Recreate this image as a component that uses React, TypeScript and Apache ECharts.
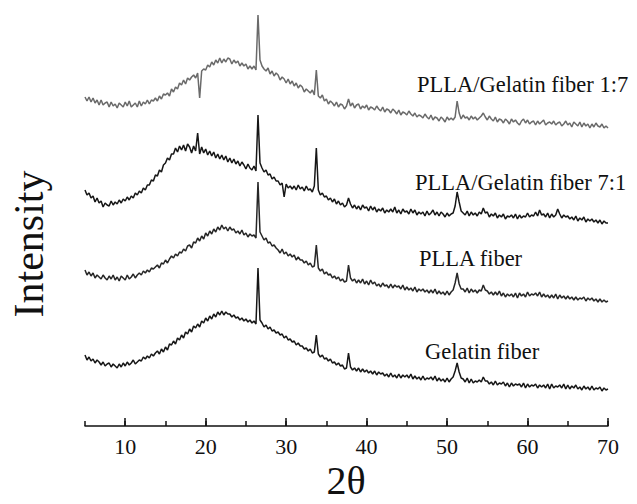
import React, { useEffect, useRef } from "react";
import * as echarts from "echarts";

// 2θ sampling of the patterns (degrees)
const THETA_START = 5;
const THETA_STEP = 0.25;
const MAJOR_TICKS = [10, 20, 30, 40, 50, 60, 70];

// Intensity (a.u., curves already offset as in the figure), 5°..70° in 0.25° steps
const fiber17 = [
  329, 325, 329, 324, 328, 323, 326, 321, 326, 321, 323, 324, 319, 324, 320, 322,
  318, 323, 321, 319, 324, 320, 325, 319, 321, 323, 319, 325, 320, 324, 322, 326,
  322, 326, 325, 328, 325, 330, 327, 332, 331, 333, 330, 337, 334, 339, 337, 343,
  341, 346, 342, 348, 346, 349, 351, 348, 353, 328, 355, 357, 356, 361, 359, 364,
  361, 366, 363, 368, 363, 367, 364, 368, 367, 362, 366, 363, 365, 360, 363, 360,
  362, 357, 360, 357, 360, 356, 411, 366, 360, 357, 355, 358, 352, 355, 350, 353,
  351, 346, 349, 347, 343, 347, 342, 345, 340, 343, 338, 341, 339, 334, 337, 335,
  333, 336, 331, 356, 330, 328, 331, 325, 327, 322, 325, 323, 320, 324, 319, 322,
  321, 317, 320, 327, 320, 323, 318, 321, 322, 317, 320, 318, 321, 316, 319, 318,
  316, 320, 317, 315, 319, 314, 317, 316, 313, 317, 315, 312, 316, 311, 314, 313,
  311, 315, 312, 310, 313, 309, 311, 310, 308, 312, 309, 307, 311, 306, 309, 308,
  305, 309, 307, 304, 309, 306, 308, 306, 309, 325, 313, 307, 311, 308, 309, 306,
  310, 307, 309, 306, 308, 310, 313, 309, 306, 310, 307, 305, 309, 304, 307, 306,
  303, 307, 305, 302, 307, 304, 306, 303, 301, 305, 307, 303, 306, 302, 304, 305,
  301, 305, 302, 304, 306, 301, 303, 304, 302, 305, 301, 303, 304, 300, 302, 305,
  301, 303, 299, 304, 302, 300, 304, 299, 303, 300, 302, 298, 302, 299, 303, 300,
  299, 302, 298, 300, 298,
];

const fiber71 = [
  236, 231, 233, 228, 230, 224, 228, 223, 225, 219, 223, 221, 220, 225, 221, 224,
  222, 226, 223, 227, 225, 229, 226, 230, 228, 233, 231, 235, 233, 238, 236, 241,
  241, 246, 245, 251, 250, 256, 254, 261, 263, 268, 266, 272, 272, 278, 274, 280,
  276, 281, 275, 282, 279, 273, 280, 275, 293, 272, 279, 273, 277, 271, 275, 270,
  274, 268, 272, 267, 271, 266, 270, 264, 268, 263, 267, 262, 265, 260, 264, 261,
  257, 262, 258, 256, 260, 255, 311, 263, 258, 254, 256, 251, 252, 247, 249, 245,
  245, 241, 243, 229, 242, 238, 240, 237, 240, 236, 241, 237, 239, 235, 240, 236,
  237, 234, 240, 278, 236, 231, 233, 229, 230, 226, 228, 224, 227, 222, 225, 221,
  223, 219, 221, 228, 222, 218, 221, 217, 220, 216, 221, 218, 219, 215, 220, 216,
  219, 214, 217, 215, 218, 213, 216, 214, 217, 214, 219, 213, 216, 212, 217, 214,
  215, 212, 217, 213, 216, 211, 214, 212, 214, 210, 215, 211, 213, 216, 211, 214,
  210, 214, 212, 209, 213, 210, 212, 213, 220, 234, 224, 215, 213, 211, 215, 210,
  214, 211, 213, 210, 214, 212, 218, 213, 214, 209, 212, 210, 213, 208, 211, 209,
  212, 207, 210, 209, 211, 208, 212, 207, 211, 208, 210, 209, 213, 209, 211, 210,
  214, 210, 216, 211, 212, 209, 213, 208, 212, 209, 211, 217, 212, 208, 211, 209,
  210, 207, 209, 206, 210, 205, 208, 206, 209, 204, 207, 205, 207, 204, 206, 203,
  206, 202, 205, 203, 203,
];

const pllaFiber = [
  156, 151, 154, 150, 153, 148, 151, 149, 147, 151, 148, 146, 150, 147, 151, 146,
  149, 145, 150, 148, 146, 151, 147, 149, 152, 148, 151, 153, 151, 155, 153, 156,
  154, 158, 157, 159, 161, 158, 163, 162, 166, 163, 167, 170, 168, 172, 170, 174,
  173, 177, 175, 180, 181, 178, 184, 183, 188, 185, 190, 187, 193, 190, 195, 192,
  197, 194, 199, 196, 201, 197, 199, 195, 199, 196, 197, 193, 195, 192, 196, 191,
  193, 189, 192, 190, 191, 188, 244, 194, 190, 186, 188, 183, 184, 180, 181, 178,
  176, 173, 177, 172, 174, 170, 172, 169, 171, 166, 169, 166, 166, 163, 165, 161,
  163, 159, 160, 181, 158, 155, 157, 152, 154, 151, 152, 148, 150, 147, 149, 145,
  147, 144, 145, 161, 148, 145, 147, 143, 146, 143, 147, 142, 145, 141, 146, 142,
  144, 140, 142, 139, 143, 140, 141, 138, 142, 138, 141, 139, 140, 137, 141, 136,
  139, 136, 138, 135, 139, 134, 137, 135, 137, 134, 136, 133, 136, 133, 137, 132,
  135, 132, 134, 131, 135, 131, 134, 136, 143, 153, 142, 137, 137, 134, 138, 133,
  137, 134, 136, 133, 136, 135, 141, 136, 135, 132, 134, 131, 134, 131, 135, 130,
  133, 129, 132, 130, 132, 129, 133, 128, 133, 130, 132, 129, 134, 130, 132, 131,
  133, 130, 134, 129, 132, 129, 131, 128, 131, 128, 132, 127, 131, 128, 130, 127,
  130, 127, 129, 126, 129, 126, 128, 127, 129, 125, 128, 126, 128, 125, 127, 124,
  127, 124, 126, 124, 125,
];

const gelatinFiber = [
  71, 66, 69, 65, 67, 63, 66, 64, 61, 64, 60, 62, 63, 59, 62, 60,
  58, 62, 59, 63, 60, 64, 61, 63, 66, 62, 64, 66, 65, 69, 67, 70,
  68, 72, 70, 73, 75, 72, 77, 74, 79, 76, 82, 81, 85, 82, 88, 86,
  91, 88, 94, 92, 97, 94, 100, 98, 102, 99, 105, 103, 108, 105, 110, 107,
  112, 109, 114, 111, 115, 111, 114, 112, 112, 109, 111, 108, 109, 106, 108, 105,
  107, 104, 106, 103, 105, 102, 158, 106, 103, 99, 101, 97, 99, 95, 96, 93,
  94, 91, 92, 88, 90, 86, 87, 84, 85, 81, 83, 80, 80, 77, 78, 75,
  77, 73, 74, 91, 72, 69, 71, 67, 68, 65, 67, 63, 64, 61, 63, 60,
  61, 57, 58, 73, 59, 56, 58, 55, 58, 54, 57, 54, 56, 53, 55, 52,
  55, 51, 54, 52, 53, 50, 52, 49, 53, 49, 51, 48, 52, 48, 51, 49,
  51, 48, 52, 47, 50, 47, 49, 46, 50, 46, 48, 47, 49, 46, 50, 45,
  48, 45, 47, 44, 48, 44, 47, 49, 55, 63, 54, 48, 47, 44, 48, 43,
  47, 43, 45, 44, 46, 44, 49, 45, 45, 42, 44, 41, 45, 41, 43, 42,
  44, 40, 43, 39, 43, 40, 42, 41, 42, 39, 43, 38, 42, 39, 41, 40,
  42, 38, 41, 39, 41, 38, 42, 37, 42, 38, 40, 39, 41, 38, 42, 37,
  41, 37, 40, 38, 41, 37, 39, 36, 40, 37, 39, 36, 40, 36, 38, 37,
  39, 35, 38, 36, 37,
];

const SERIES_NAMES = [
  "PLLA/Gelatin fiber 1:7",
  "PLLA/Gelatin fiber 7:1",
  "PLLA fiber",
  "Gelatin fiber",
];

const FONT = "'Liberation Serif', 'Times New Roman', serif";

const toPairs = (arr: number[]) =>
  arr.map((v, i) => [THETA_START + i * THETA_STEP, v]);

export default function App() {
  const ref = useRef<HTMLDivElement>(null);

  useEffect(() => {
    document.body.style.margin = "0";
    if (!ref.current) return;
    const chart = echarts.init(ref.current, null, { renderer: "svg" });
    const datasets = [fiber17, fiber71, pllaFiber, gelatinFiber];
    const colors = ["#6a6a6a", "#161616", "#262626", "#161616"];
    const labelPos = [
      { x: 417, y: 84 },
      { x: 415, y: 182 },
      { x: 419, y: 258 },
      { x: 425, y: 351 },
    ];

    chart.setOption({
      animation: false,
      backgroundColor: "#ffffff",
      grid: { left: 85, right: 29, top: 0, bottom: 78, containLabel: false },
      xAxis: [
        {
          type: "value",
          min: 5,
          max: 70,
          interval: 5,
          position: "bottom",
          axisLine: { show: true, lineStyle: { color: "#111", width: 1.5 } },
          axisTick: { show: true, inside: true, length: 5, lineStyle: { color: "#111", width: 1.5 } },
          axisLabel: {
            formatter: (v: number) => (v % 10 === 0 ? String(v) : ""),
            fontFamily: FONT,
            fontSize: 22,
            color: "#111",
            margin: 9,
          },
          splitLine: { show: false },
        },
        {
          type: "value",
          min: 5,
          max: 70,
          position: "bottom",
          axisLine: { show: false },
          axisTick: {
            show: true,
            inside: true,
            length: 8,
            customValues: MAJOR_TICKS,
            lineStyle: { color: "#111", width: 1.5 },
          },
          axisLabel: { show: false },
          splitLine: { show: false },
        },
      ],
      yAxis: {
        type: "value",
        min: 0,
        max: 426,
        show: true,
        axisLine: { show: false },
        axisTick: { show: false },
        axisLabel: { show: false },
        splitLine: { show: false },
      },
      series: datasets.map((d, i) => ({
        name: SERIES_NAMES[i],
        type: "line",
        xAxisIndex: 0,
        data: toPairs(d),
        showSymbol: false,
        symbol: "none",
        clip: false,
        silent: true,
        lineStyle: { color: colors[i], width: 1.5 },
      })),
      graphic: [
        ...SERIES_NAMES.map((name, i) => ({
          type: "text",
          x: labelPos[i].x,
          y: labelPos[i].y,
          silent: true,
          style: {
            text: name,
            fontFamily: FONT,
            fontSize: 22.5,
            fill: "#111",
            align: "left",
            verticalAlign: "middle",
          },
        })),
        {
          type: "text",
          x: 346,
          y: 480,
          silent: true,
          style: {
            text: "2θ",
            fontFamily: FONT,
            fontSize: 40,
            fill: "#111",
            align: "center",
            verticalAlign: "middle",
          },
        },
        {
          type: "text",
          x: 29,
          y: 244,
          rotation: Math.PI / 2,
          silent: true,
          style: {
            text: "Intensity",
            fontFamily: FONT,
            fontSize: 42,
            fill: "#111",
            align: "center",
            verticalAlign: "middle",
          },
        },
      ],
    });

    return () => chart.dispose();
  }, []);

  return <div ref={ref} style={{ width: 637, height: 504 }} />;
}
